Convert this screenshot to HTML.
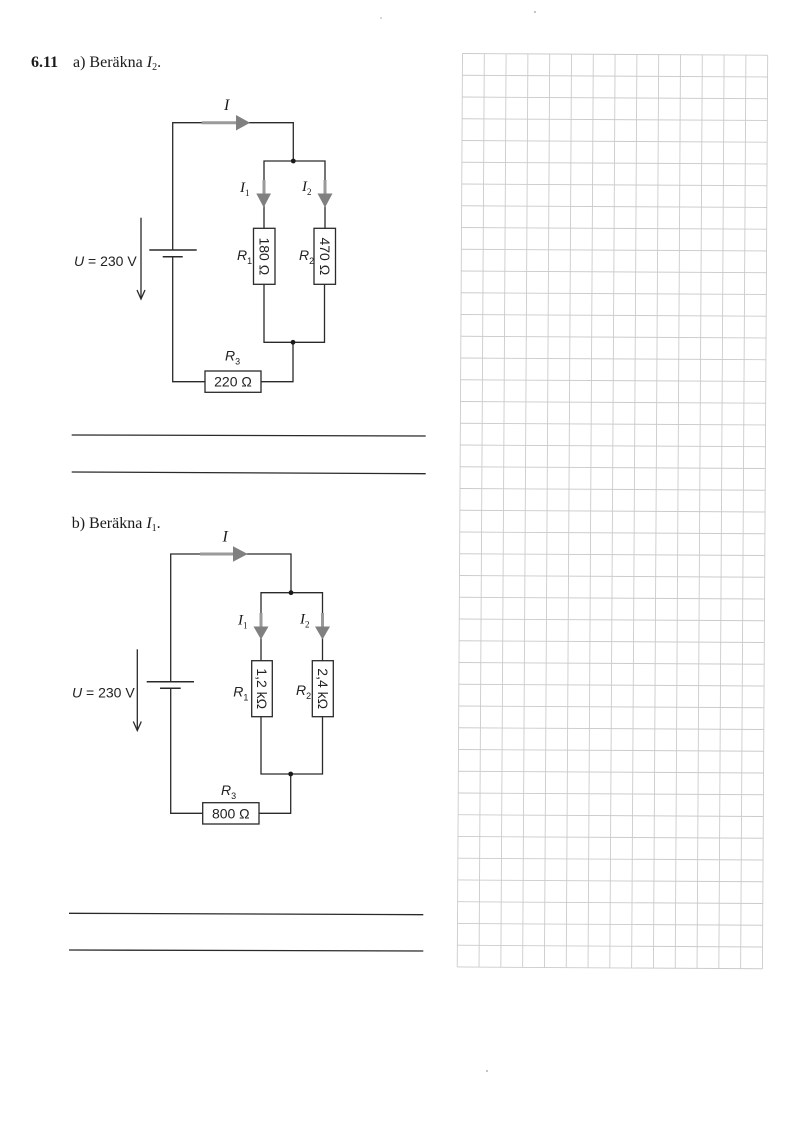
<!DOCTYPE html>
<html><head><meta charset="utf-8"><style>
html,body{margin:0;padding:0;background:#fff;}
svg{display:block;}
.w{stroke:#2a2a2a;stroke-width:1.3;fill:none;}
.box{stroke:#2a2a2a;stroke-width:1.3;fill:#fff;}
.serif{font-family:"Liberation Serif",serif;fill:#1a1a1a;}
.sans{font-family:"Liberation Sans",sans-serif;fill:#222;}
</style></head><body>
<svg width="800" height="1131" viewBox="0 0 800 1131" xmlns="http://www.w3.org/2000/svg">
<rect width="800" height="1131" fill="#fff"/>
<!-- grid -->
<g transform="rotate(0.33 462.5 53.5)" stroke="#cbcbcb" stroke-width="0.9" fill="none">
<path d="M462.5 53.5V967M484.3 53.5V967M506.1 53.5V967M527.9 53.5V967M549.7 53.5V967M571.5 53.5V967M593.3 53.5V967M615.1 53.5V967M636.9 53.5V967M658.7 53.5V967M680.5 53.5V967M702.3 53.5V967M724.1 53.5V967M745.9 53.5V967M767.7 53.5V967"/>
<path d="M462.5 53.5H767.7M462.5 75.25H767.7M462.5 97H767.7M462.5 118.75H767.7M462.5 140.5H767.7M462.5 162.25H767.7M462.5 184H767.7M462.5 205.75H767.7M462.5 227.5H767.7M462.5 249.25H767.7M462.5 271H767.7M462.5 292.75H767.7M462.5 314.5H767.7M462.5 336.25H767.7M462.5 358H767.7M462.5 379.75H767.7M462.5 401.5H767.7M462.5 423.25H767.7M462.5 445H767.7M462.5 466.75H767.7M462.5 488.5H767.7M462.5 510.25H767.7M462.5 532H767.7M462.5 553.75H767.7M462.5 575.5H767.7M462.5 597.25H767.7M462.5 619H767.7M462.5 640.75H767.7M462.5 662.5H767.7M462.5 684.25H767.7M462.5 706H767.7M462.5 727.75H767.7M462.5 749.5H767.7M462.5 771.25H767.7M462.5 793H767.7M462.5 814.75H767.7M462.5 836.5H767.7M462.5 858.25H767.7M462.5 880H767.7M462.5 901.75H767.7M462.5 923.5H767.7M462.5 945.25H767.7M462.5 967H767.7"/>
</g>
<!-- specks -->
<circle cx="381" cy="18" r="0.8" fill="#aaa"/>
<circle cx="535" cy="12" r="0.9" fill="#999"/>
<circle cx="487" cy="1071" r="0.9" fill="#999"/>

<!-- ===== Part a ===== -->
<text x="31" y="67" class="serif" font-size="16" font-weight="bold">6.11</text>
<text x="73" y="67" class="serif" font-size="16">a) Beräkna <tspan font-style="italic">I</tspan><tspan font-size="10" dy="3">2</tspan><tspan dy="-3">.</tspan></text>

<polyline class="w" points="172.7,250 172.7,122.7 293.3,122.7 293.3,161"/>
<polyline class="w" points="264,228.3 264,161 325,161 325,228.3"/>
<polyline class="w" points="264,284.3 264,342.3 324.5,342.3 324.5,284.3"/>
<polyline class="w" points="293,342.3 293,381.7 261,381.7"/>
<polyline class="w" points="205,381.7 172.7,381.7 172.7,256.7"/>
<line x1="149.3" y1="250" x2="196.7" y2="250" stroke="#2a2a2a" stroke-width="1.5"/>
<line x1="162.7" y1="256.7" x2="182.7" y2="256.7" stroke="#2a2a2a" stroke-width="1.5"/>
<circle cx="293.3" cy="161" r="2.4" fill="#1a1a1a"/>
<circle cx="293" cy="342.3" r="2.4" fill="#1a1a1a"/>
<rect class="box" x="253.5" y="228.3" width="21.5" height="56"/>
<rect class="box" x="314" y="228.3" width="21.5" height="56"/>
<rect class="box" x="205" y="371" width="56" height="21.3"/>
<!-- current arrows -->
<line x1="201.7" y1="122.7" x2="237" y2="122.7" stroke="#9a9a9a" stroke-width="3"/>
<polygon points="236,115 250,122.7 236,130.5" fill="#808080"/>
<line x1="264" y1="180" x2="264" y2="194" stroke="#9a9a9a" stroke-width="3"/>
<polygon points="256.3,193.5 271,193.5 263.7,207.5" fill="#808080"/>
<line x1="325" y1="180" x2="325" y2="194" stroke="#9a9a9a" stroke-width="3"/>
<polygon points="317.5,193.5 332.5,193.5 325,207.5" fill="#808080"/>
<!-- voltage arrow -->
<line x1="141" y1="217.7" x2="141" y2="298.5" stroke="#2a2a2a" stroke-width="1.3"/>
<polyline points="137,290 141,299 145,290" fill="none" stroke="#2a2a2a" stroke-width="1.3"/>
<!-- labels -->
<text x="224" y="110" class="serif" font-size="16" font-style="italic">I</text>
<text x="240" y="192" class="serif" font-size="15" font-style="italic">I<tspan font-size="9" dy="4" font-style="normal">1</tspan></text>
<text x="302" y="191" class="serif" font-size="15" font-style="italic">I<tspan font-size="9" dy="4" font-style="normal">2</tspan></text>
<text x="237" y="260" class="sans" font-size="14" font-style="italic">R<tspan font-size="9" dy="4" font-style="normal">1</tspan></text>
<text x="299" y="260" class="sans" font-size="14" font-style="italic">R<tspan font-size="9" dy="4" font-style="normal">2</tspan></text>
<text x="225" y="360.5" class="sans" font-size="14" font-style="italic">R<tspan font-size="9" dy="4" font-style="normal">3</tspan></text>
<text x="74" y="266" class="sans" font-size="14"><tspan font-style="italic">U</tspan> = 230 V</text>
<text transform="translate(264.3 256.3) rotate(90)" text-anchor="middle" dominant-baseline="central" class="sans" font-size="14">180 Ω</text>
<text transform="translate(324.8 256.3) rotate(90)" text-anchor="middle" dominant-baseline="central" class="sans" font-size="14">470 Ω</text>
<text x="233" y="381.7" text-anchor="middle" dominant-baseline="central" class="sans" font-size="14">220 Ω</text>

<line x1="71.7" y1="435" x2="425.7" y2="436" stroke="#2a2a2a" stroke-width="1.3"/>
<line x1="71.7" y1="472" x2="425.7" y2="473.7" stroke="#2a2a2a" stroke-width="1.3"/>

<!-- ===== Part b ===== -->
<text x="71.7" y="528" class="serif" font-size="16">b) Beräkna <tspan font-style="italic">I</tspan><tspan font-size="10" dy="3">1</tspan><tspan dy="-3">.</tspan></text>

<polyline class="w" points="170.7,681.7 170.7,554 291,554 291,592.7"/>
<polyline class="w" points="261,660.7 261,592.7 322.5,592.7 322.5,660.7"/>
<polyline class="w" points="261,716.7 261,774 322.5,774 322.5,716.7"/>
<polyline class="w" points="290.7,774 290.7,813.3 259,813.3"/>
<polyline class="w" points="202.7,813.3 170.7,813.3 170.7,688.3"/>
<line x1="146.7" y1="681.7" x2="194" y2="681.7" stroke="#2a2a2a" stroke-width="1.5"/>
<line x1="160" y1="688.3" x2="180.7" y2="688.3" stroke="#2a2a2a" stroke-width="1.5"/>
<circle cx="291" cy="592.7" r="2.4" fill="#1a1a1a"/>
<circle cx="290.7" cy="774" r="2.4" fill="#1a1a1a"/>
<rect class="box" x="251.7" y="660.7" width="20.6" height="56"/>
<rect class="box" x="312.3" y="660.7" width="21" height="56"/>
<rect class="box" x="202.7" y="802.7" width="56.3" height="21.3"/>
<line x1="200" y1="554" x2="234" y2="554" stroke="#9a9a9a" stroke-width="3"/>
<polygon points="233,546.3 247.7,554 233,561.7" fill="#808080"/>
<line x1="261" y1="613" x2="261" y2="627" stroke="#9a9a9a" stroke-width="3"/>
<polygon points="253.5,626.5 268.5,626.5 261,639.5" fill="#808080"/>
<line x1="322.5" y1="613" x2="322.5" y2="627" stroke="#9a9a9a" stroke-width="3"/>
<polygon points="315,626.5 330,626.5 322.5,639.5" fill="#808080"/>
<line x1="137.3" y1="649.3" x2="137.3" y2="730" stroke="#2a2a2a" stroke-width="1.3"/>
<polyline points="133.3,721.5 137.3,730.5 141.3,721.5" fill="none" stroke="#2a2a2a" stroke-width="1.3"/>
<text x="222.5" y="541.7" class="serif" font-size="16" font-style="italic">I</text>
<text x="238" y="624.5" class="serif" font-size="15" font-style="italic">I<tspan font-size="9" dy="4" font-style="normal">1</tspan></text>
<text x="300" y="623.5" class="serif" font-size="15" font-style="italic">I<tspan font-size="9" dy="4" font-style="normal">2</tspan></text>
<text x="233.3" y="696.5" class="sans" font-size="14" font-style="italic">R<tspan font-size="9" dy="4" font-style="normal">1</tspan></text>
<text x="296" y="695" class="sans" font-size="14" font-style="italic">R<tspan font-size="9" dy="4" font-style="normal">2</tspan></text>
<text x="221" y="795" class="sans" font-size="14" font-style="italic">R<tspan font-size="9" dy="4" font-style="normal">3</tspan></text>
<text x="72" y="697.5" class="sans" font-size="14"><tspan font-style="italic">U</tspan> = 230 V</text>
<text transform="translate(262 688.7) rotate(90)" text-anchor="middle" dominant-baseline="central" class="sans" font-size="14">1,2 kΩ</text>
<text transform="translate(322.8 688.7) rotate(90)" text-anchor="middle" dominant-baseline="central" class="sans" font-size="14">2,4 kΩ</text>
<text x="230.8" y="813.3" text-anchor="middle" dominant-baseline="central" class="sans" font-size="14">800 Ω</text>

<line x1="69" y1="913.3" x2="423.3" y2="914.7" stroke="#2a2a2a" stroke-width="1.3"/>
<line x1="69" y1="950" x2="423.3" y2="951" stroke="#2a2a2a" stroke-width="1.3"/>
</svg>
</body></html>
